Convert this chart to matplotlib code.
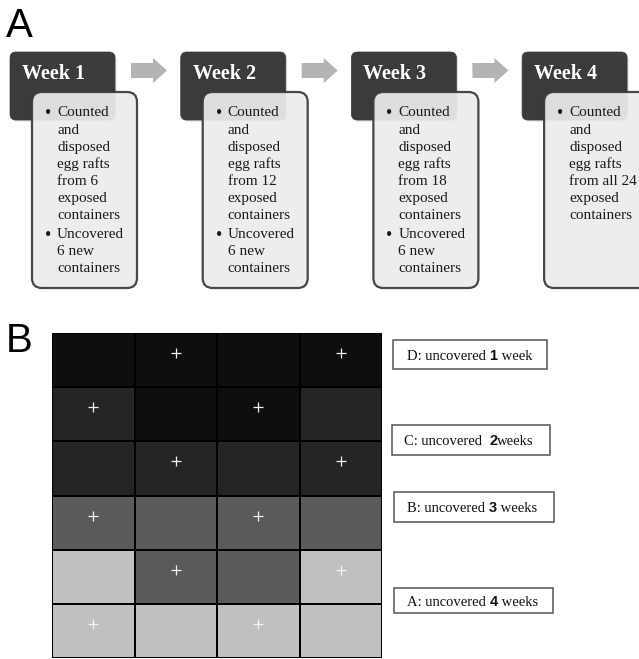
import matplotlib
matplotlib.use("Agg")
import matplotlib.pyplot as plt
import numpy as np
from matplotlib.patches import FancyBboxPatch, Rectangle, Polygon
from matplotlib.colors import ListedColormap, BoundaryNorm

# ---------------- data ----------------
week_titles = ["Week 1", "Week 2", "Week 3", "Week 4"]
bullet_counted = [
    ["Counted", "and", "disposed", "egg rafts", "from 6", "exposed", "containers"],
    ["Counted", "and", "disposed", "egg rafts", "from 12", "exposed", "containers"],
    ["Counted", "and", "disposed", "egg rafts", "from 18", "exposed", "containers"],
    ["Counted", "and", "disposed", "egg rafts", "from all 24", "exposed", "containers"],
]
bullet_uncovered = [
    ["Uncovered", "6 new", "containers"],
    ["Uncovered", "6 new", "containers"],
    ["Uncovered", "6 new", "containers"],
    [],
]

# weeks uncovered for each container (rows top->bottom, columns left->right)
weeks_uncovered = [
    [1, 1, 1, 1],
    [2, 1, 1, 2],
    [2, 2, 2, 2],
    [3, 3, 3, 3],
    [4, 3, 3, 4],
    [4, 4, 4, 4],
]
# '+' marks
plus_marks = [
    [0, 1, 0, 1],
    [1, 0, 1, 0],
    [0, 1, 0, 1],
    [1, 0, 1, 0],
    [0, 1, 0, 1],
    [1, 0, 1, 0],
]
week_colors = ["#0e0e0e", "#252525", "#5a5a5a", "#c0c0c0"]

legend_prefix = ["D: uncovered ", "C: uncovered  ", "B: uncovered ", "A: uncovered "]
legend_number = ["1", "2", "3", "4"]
legend_suffix = [" week", "weeks", " weeks", " weeks"]

# ---------------- figure ----------------
W, H = 639, 659
fig = plt.figure(figsize=(W / 100, H / 100), dpi=100)
fig.patch.set_facecolor("white")
ax = fig.add_axes([0, 0, 1, 1])
ax.set_xlim(0, W)
ax.set_ylim(H, 0)
ax.axis("off")

serif = "Liberation Serif"
sans = "Liberation Sans"

# panel letters
ax.text(6, 37, "A", fontsize=29, family=sans, ha="left", va="baseline", color="black")
ax.text(6, 352, "B", fontsize=29, family=sans, ha="left", va="baseline", color="black")

# ---------------- panel A ----------------
step = 170.7
for i, title in enumerate(week_titles):
    dx = 10 + i * step
    # dark header box (with faint shadow)
    sh = FancyBboxPatch((dx + 1.5, 53.5), 105, 68, boxstyle="round,pad=0,rounding_size=6",
                        facecolor="#bbbbbb", edgecolor="none", alpha=0.5, zorder=1)
    ax.add_patch(sh)
    dark = FancyBboxPatch((dx, 52), 105, 68, boxstyle="round,pad=0,rounding_size=6",
                          facecolor="#3b3b3b", edgecolor="#3b3b3b", lw=0.5, zorder=2)
    ax.add_patch(dark)
    ax.text(dx + 12, 74, title, fontsize=14.5, family=serif, fontweight="bold",
            color="white", ha="left", va="center", zorder=5)

    # light content box
    lx = dx + 22
    light = FancyBboxPatch((lx, 92), 105, 196, boxstyle="round,pad=0,rounding_size=10",
                           facecolor="#ececec", edgecolor="#3a3a3a", lw=1.6, alpha=0.93, zorder=3)
    ax.add_patch(light)

    y = 113
    ax.text(lx + 16, y, "•", fontsize=13, family=serif, color="#1a1a1a",
            ha="center", va="center", zorder=6)
    for line in bullet_counted[i]:
        ax.text(lx + 25, y, line, fontsize=11, family=serif, color="#1a1a1a",
                ha="left", va="center", zorder=6)
        y += 17.1
    if bullet_uncovered[i]:
        y = 235
        ax.text(lx + 16, y, "•", fontsize=13, family=serif, color="#1a1a1a",
                ha="center", va="center", zorder=6)
        for line in bullet_uncovered[i]:
            ax.text(lx + 25, y, line, fontsize=11, family=serif, color="#1a1a1a",
                    ha="left", va="center", zorder=6)
            y += 16.8

    # arrow to next week
    if i < len(week_titles) - 1:
        ax0 = dx + 121
        arrow = Polygon([(ax0, 63), (ax0 + 22, 63), (ax0 + 22, 58), (ax0 + 36, 70.5),
                         (ax0 + 22, 83), (ax0 + 22, 78), (ax0, 78)], closed=True,
                        facecolor="#b4b4b4", edgecolor="none", zorder=2)
        ax.add_patch(arrow)

# ---------------- panel B grid ----------------
gx0, gx1, gy0, gy1 = 52, 382, 333, 658
gax = fig.add_axes([gx0 / W, (H - gy1) / H, (gx1 - gx0) / W, (gy1 - gy0) / H])
data = np.array(weeks_uncovered)
nrows, ncols = data.shape
cmap = ListedColormap(week_colors)
norm = BoundaryNorm([0.5, 1.5, 2.5, 3.5, 4.5], cmap.N)
gax.pcolormesh(np.arange(ncols + 1), np.arange(nrows + 1), data, cmap=cmap, norm=norm,
               edgecolors="black", linewidth=1.3)
gax.set_xlim(0, ncols)
gax.set_ylim(nrows, 0)
gax.axis("off")
marks = np.array(plus_marks)
rr, cc = np.nonzero(marks)
gax.plot(cc + 0.5, rr + 0.37, linestyle="none", marker="+", markersize=6.5,
         markeredgewidth=0.9, color="#f4f4f4")

# ---------------- legend boxes ----------------
boxes = [(393, 340, 154, 29), (392, 425, 158, 30), (394, 492, 160, 30), (394, 588, 159, 25)]
text_x = [407, 404, 407, 407]
fig.canvas.draw()
renderer = fig.canvas.get_renderer()
inv = ax.transData.inverted()
for k in range(4):
    bx, by, bw, bh = boxes[k]
    ax.add_patch(Rectangle((bx, by), bw, bh, facecolor="white", edgecolor="#555555", lw=1.1, zorder=3))
    yb = by + bh / 2 + 5
    t1 = ax.text(text_x[k], yb, legend_prefix[k], fontsize=10.5, family=serif,
                 ha="left", va="baseline", color="#111111", zorder=4)
    x1 = inv.transform(t1.get_window_extent(renderer).get_points())[1, 0]
    t2 = ax.text(x1, yb, legend_number[k], fontsize=10.5, family=sans, fontweight="bold",
                 ha="left", va="baseline", color="#111111", zorder=4)
    x2 = inv.transform(t2.get_window_extent(renderer).get_points())[1, 0]
    ax.text(x2, yb, legend_suffix[k], fontsize=10.5, family=serif,
            ha="left", va="baseline", color="#111111", zorder=4)

fig.savefig("out.png", dpi=100, facecolor="white")
